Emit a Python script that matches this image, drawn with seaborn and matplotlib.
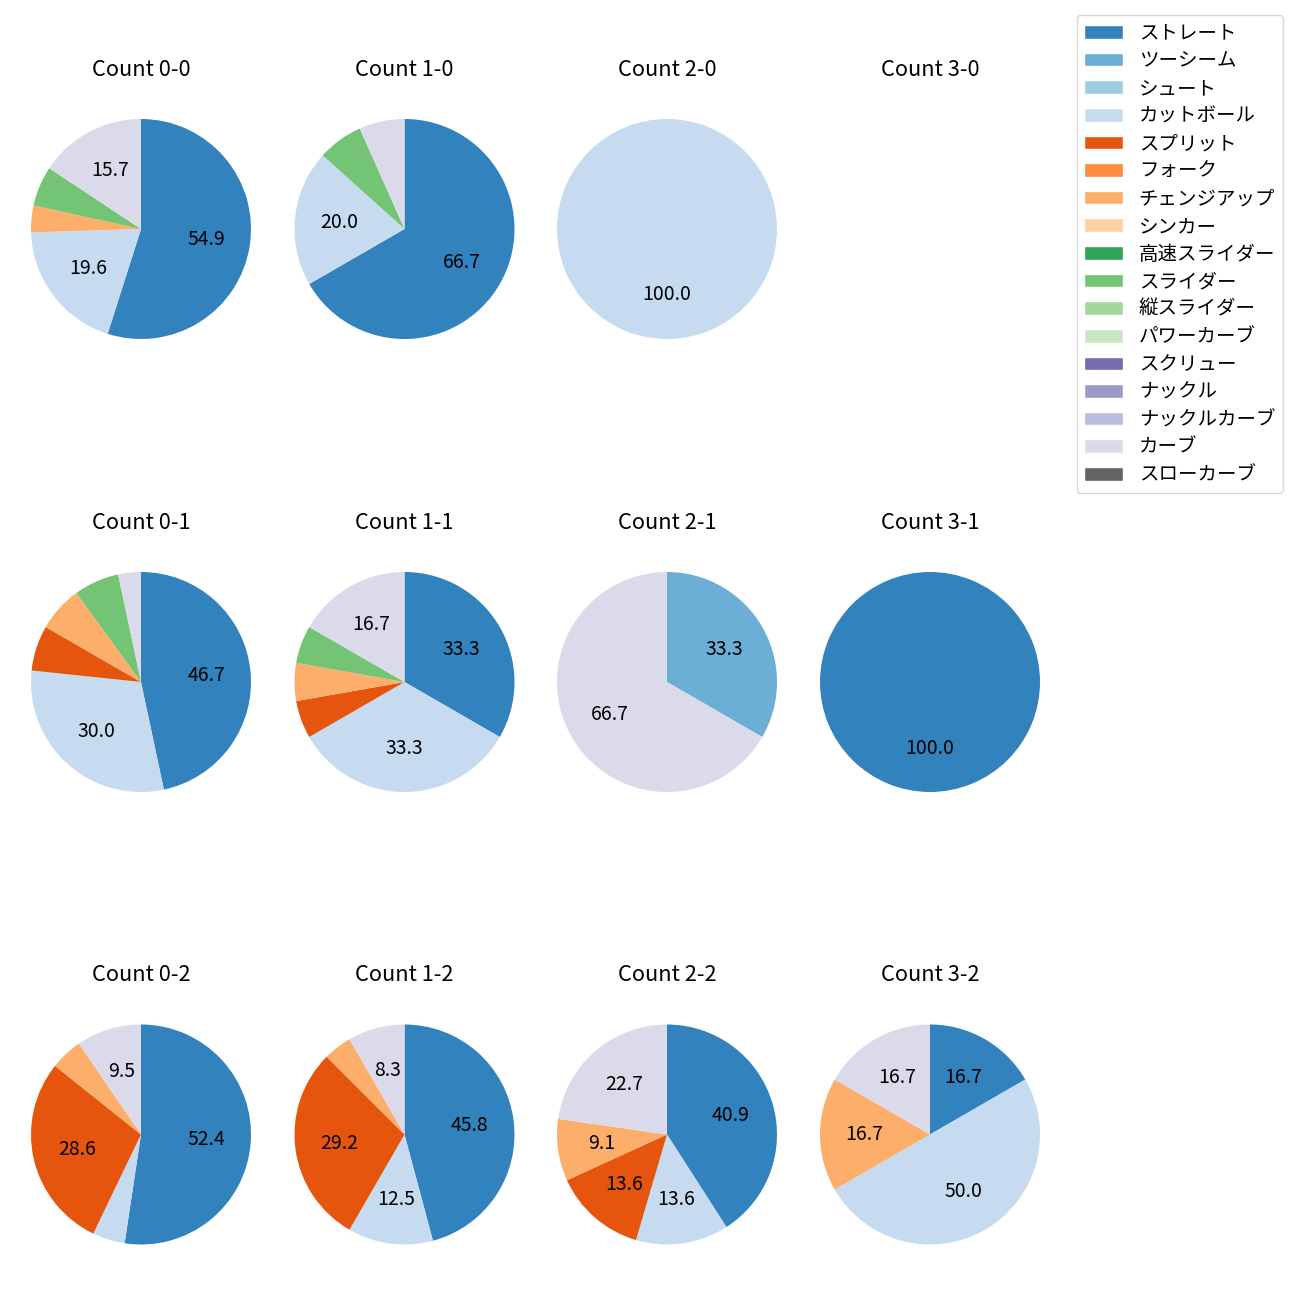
import matplotlib
matplotlib.use("Agg")
import matplotlib.pyplot as plt
from matplotlib.patches import Patch
import seaborn as sns

sns.set_style("white")
plt.rcParams['font.family'] = ['Noto Sans CJK JP', 'DejaVu Sans']
plt.rcParams['text.color'] = 'black'

pitch_types = ["ストレート", "ツーシーム", "シュート", "カットボール", "スプリット", "フォーク",
               "チェンジアップ", "シンカー", "高速スライダー", "スライダー", "縦スライダー",
               "パワーカーブ", "スクリュー", "ナックル", "ナックルカーブ", "カーブ", "スローカーブ"]

count_labels = ["Count 0-0", "Count 1-0", "Count 2-0", "Count 3-0",
                "Count 0-1", "Count 1-1", "Count 2-1", "Count 3-1",
                "Count 0-2", "Count 1-2", "Count 2-2", "Count 3-2"]

# pitch counts per type (order of pitch_types)
c00 = [28, 0, 0, 10, 0, 0, 2, 0, 0, 3, 0, 0, 0, 0, 0, 8, 0]
c10 = [10, 0, 0, 3, 0, 0, 0, 0, 0, 1, 0, 0, 0, 0, 0, 1, 0]
c20 = [0, 0, 0, 1, 0, 0, 0, 0, 0, 0, 0, 0, 0, 0, 0, 0, 0]
c30 = [0, 0, 0, 0, 0, 0, 0, 0, 0, 0, 0, 0, 0, 0, 0, 0, 0]
c01 = [14, 0, 0, 9, 2, 0, 2, 0, 0, 2, 0, 0, 0, 0, 0, 1, 0]
c11 = [6, 0, 0, 6, 1, 0, 1, 0, 0, 1, 0, 0, 0, 0, 0, 3, 0]
c21 = [0, 1, 0, 0, 0, 0, 0, 0, 0, 0, 0, 0, 0, 0, 0, 2, 0]
c31 = [1, 0, 0, 0, 0, 0, 0, 0, 0, 0, 0, 0, 0, 0, 0, 0, 0]
c02 = [11, 0, 0, 1, 6, 0, 1, 0, 0, 0, 0, 0, 0, 0, 0, 2, 0]
c12 = [11, 0, 0, 3, 7, 0, 1, 0, 0, 0, 0, 0, 0, 0, 0, 2, 0]
c22 = [9, 0, 0, 3, 3, 0, 2, 0, 0, 0, 0, 0, 0, 0, 0, 5, 0]
c32 = [1, 0, 0, 3, 0, 0, 1, 0, 0, 0, 0, 0, 0, 0, 0, 1, 0]

all_counts = [c00, c10, c20, c30, c01, c11, c21, c31, c02, c12, c22, c32]

colors = sns.color_palette("tab20c", 20)[:17]

W = H = 1300
fig = plt.figure(figsize=(13, 13), dpi=100)

col_centers = [141, 404.5, 667, 930]
row_centers = [229, 682, 1134.5]
box = 275.0

for i, (lab, vals) in enumerate(zip(count_labels, all_counts)):
    r, c = divmod(i, 4)
    cx, cy = col_centers[c], row_centers[r]
    ax = fig.add_axes([(cx - box / 2) / W, 1 - (cy + box / 2) / H, box / W, box / H])
    idx = [k for k, v in enumerate(vals) if v > 0]
    if idx:
        ax.pie([vals[k] for k in idx], colors=[colors[k] for k in idx],
               startangle=90, counterclock=False,
               autopct=lambda p: f"{p:.1f}" if p > 7 else "",
               wedgeprops={'linewidth': 0, 'edgecolor': 'none'},
               textprops={'fontsize': 14, 'color': 'black'})
    else:
        ax.set_xlim(-1.25, 1.25)
        ax.set_ylim(-1.25, 1.25)
        ax.set_aspect('equal')
        ax.axis('off')
    ax.set_title(lab, fontsize=15.7, pad=11.4, color='black')

handles = [Patch(facecolor=colors[k], label=pitch_types[k]) for k in range(17)]
fig.legend(handles=handles, loc='upper right',
           bbox_to_anchor=(1283 / W, 1 - 15 / H), borderaxespad=0, fontsize=14,
           labelspacing=0.34, labelcolor='black')

fig.savefig("out.png", dpi=100)
